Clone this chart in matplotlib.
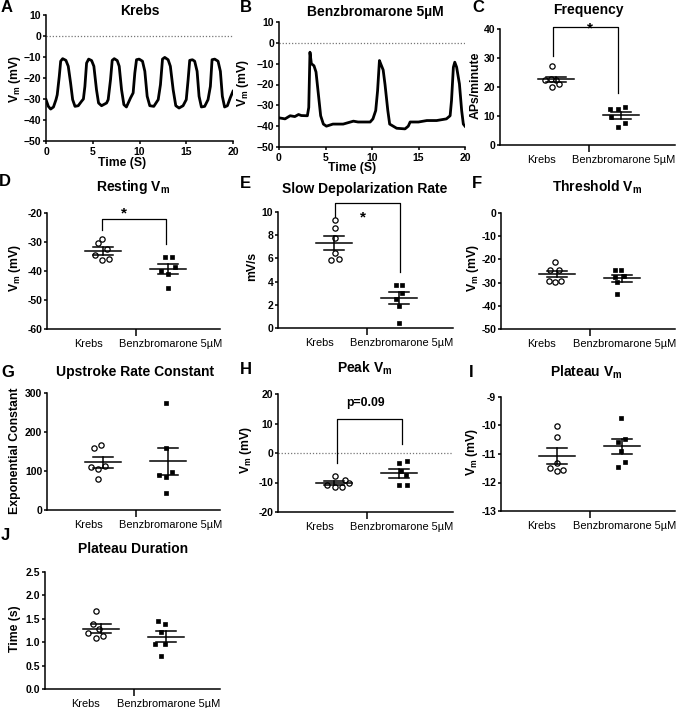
import numpy as np
import matplotlib
matplotlib.use("Agg")
import matplotlib.pyplot as plt

plt.rcParams['font.family'] = ['Liberation Sans', 'DejaVu Sans']
plt.rcParams['mathtext.fontset'] = 'custom'
plt.rcParams['mathtext.rm'] = 'Liberation Sans'
plt.rcParams['mathtext.bf'] = 'Liberation Sans:bold'
plt.rcParams['mathtext.it'] = 'Liberation Sans:italic'

# ---------------- data ----------------
groups = ["Krebs", "Benzbromarone 5µM"]

trace_a_t = [0, 0.25, 0.5, 0.8, 1.07, 1.2, 1.42, 1.57, 1.78, 2.13, 2.38, 2.63, 2.85, 3.1, 3.45, 3.8,
             4.0, 4.16, 4.34, 4.56, 4.88, 5.12, 5.4, 5.62, 5.94, 6.48, 6.65, 6.9, 7.08, 7.3, 7.62,
             7.83, 8.08, 8.33, 8.6, 9.04, 9.32, 9.5, 9.68, 9.96, 10.32, 10.57, 10.82, 11.1, 11.53,
             12.0, 12.24, 12.46, 12.7, 13.06, 13.3, 13.6, 13.88, 14.23, 14.66, 15.0, 15.2, 15.37,
             15.66, 15.9, 16.16, 16.37, 16.62, 16.97, 17.33, 17.58, 17.76, 18.04, 18.4, 18.65,
             18.86, 19.1, 19.4, 19.7, 20.0]
trace_a_v = [-30.3, -33.5, -34.8, -33.8, -30.3, -28, -19.2, -12, -10.8, -11.6, -14.4, -22.4, -30.3,
             -33.5, -33.2, -31.1, -30, -24, -12.9, -11, -11.7, -14.4, -25.6, -31.9, -33.2, -31.9,
             -30.3, -20.8, -11.6, -10.8, -11.7, -14.4, -25.6, -32.7, -33.8, -29.5, -27.1, -17.6,
             -11.3, -11, -12, -16.8, -28.7, -33.2, -33.5, -30.3, -23.2, -11, -10.2, -11.3, -14.4,
             -25.6, -33.2, -34.3, -33.2, -30.3, -20.8, -11.6, -11.3, -12, -16.8, -28.7, -33.8,
             -33.5, -30.3, -24, -11.3, -11, -12, -16.8, -28.7, -33.8, -33.2, -29.5, -26.3]

trace_b_t = [0, 0.65, 1.2, 1.7, 2.1, 2.4, 3.05, 3.2, 3.33, 3.48, 3.76, 3.98, 4.23, 4.48, 4.77, 5.1,
             5.8, 6.9, 8.0, 8.5, 9.8, 10.1, 10.4, 10.6, 10.8, 10.93, 11.2, 11.4, 11.7, 11.9, 12.65,
             13.55, 13.9, 14.1, 15.0, 15.9, 16.95, 18.0, 18.4, 18.55, 18.75, 18.9, 19.1, 19.4,
             19.64, 19.82, 20.0]
trace_b_v = [-36, -36.5, -35, -35.4, -34.4, -34.9, -35, -31, -4.5, -10, -11, -14, -24.5, -35, -39,
             -40, -39, -39, -37.6, -38, -38, -36.5, -32.5, -23, -8.5, -10, -13, -20, -32.5, -39,
             -41, -41.3, -40, -38, -38, -37.3, -37.3, -36.5, -35, -27.7, -11.7, -9.3, -11.7,
             -19.7, -32.5, -39, -40]

freq_krebs = [27.1, 22.5, 22.8, 22.3, 19.9, 21.0]
freq_benz = [12.3, 12.5, 13.0, 9.8, 7.5, 6.3]
rest_krebs = [-28.9, -30.5, -32.5, -34.6, -36.2, -36.0]
rest_benz = [-35.3, -35.1, -38.7, -40.0, -41.0, -45.8]
slow_krebs = [9.34, 8.62, 7.76, 6.47, 5.9, 5.98]
slow_benz = [3.74, 3.68, 3.02, 2.53, 1.93, 0.43]
thr_krebs = [-21.0, -24.6, -24.6, -29.3, -29.6, -29.1]
thr_benz = [-24.6, -24.6, -27.7, -27.1, -29.6, -35.0]
up_krebs = [159, 167, 109, 113, 104, 79]
up_benz = [274, 158, 90, 98, 84, 43]
peak_krebs = [-7.7, -11.0, -11.6, -11.6, -9.3, -10.1]
peak_benz = [-3.4, -2.7, -6.25, -7.6, -10.8, -10.8]
plat_krebs = [-10.02, -10.41, -11.32, -11.5, -11.6, -11.55]
plat_benz = [-9.75, -10.57, -10.47, -10.9, -11.27, -11.44]
dur_krebs = [1.67, 1.38, 1.29, 1.19, 1.14, 1.08]
dur_benz = [1.46, 1.39, 1.21, 0.96, 0.96, 0.70]

# ---------------- layout helpers ----------------
W, H = 679, 708
fig = plt.figure(figsize=(W / 100, H / 100), dpi=100)

def ax_at(l, t, r, b):
    return fig.add_axes([l / W, 1 - b / H, (r - l) / W, (b - t) / H])

def ftext(x, y, s, **kw):
    fig.text(x / W, 1 - y / H, s, **kw)

VM = r'$\mathbf{V_m}$ (mV)'
TICKFS = 7.5
LABFS = 8.8
LW = 1.1

def style(ax):
    for s in ['top', 'right']:
        ax.spines[s].set_visible(False)
    for s in ['left', 'bottom']:
        ax.spines[s].set_linewidth(LW)
    ax.tick_params(axis='both', length=2.5, width=LW, pad=1, labelsize=TICKFS)
    for lab in ax.get_yticklabels() + ax.get_xticklabels():
        lab.set_fontweight('bold')

def trace_panel(box, t, v, title, title_xy, ylab_xy, xlab_xy):
    ax = ax_at(*box)
    ax.plot(t, v, color='black', lw=2.0, solid_joinstyle='round')
    ax.axhline(0, color='#777777', lw=0.9, ls=(0, (1, 1.5)))
    ax.set_xlim(0, 20)
    ax.set_ylim(-50, 10)
    ax.set_xticks([0, 5, 10, 15, 20])
    ax.set_yticks([-50, -40, -30, -20, -10, 0, 10])
    style(ax)
    ax.tick_params(axis='x', pad=1.5)
    ftext(*title_xy, title, ha='center', va='center', fontsize=10, fontweight='bold')
    ftext(*ylab_xy, VM, ha='center', va='center', rotation=90, fontsize=LABFS, fontweight='bold')
    ftext(*xlab_xy, "Time (S)", ha='center', va='center', fontsize=LABFS, fontweight='bold')
    return ax

offsets = {
    'C': ([-4, -11, -5, 0, -4, 3], [-11, -3, 4, -10, 4, -3]),
    'D': ([-1, -5, 4, -8, -1, 6], [-3, 4, 7, -7, 0, 0]),
    'E': ([1, 1, 1, 1, -3, 5], [-3, 3, 3, -3, 0, 0]),
    'F': ([-2, -7, 2, -8, -2, 4], [-7, -1, -7, 2, -5, -5]),
    'G': ([-9, -2, -12, 2, -5, -5], [-2, -2, -9, 4, -2, -2]),
    'H': ([1, -7, 1, 8, 11, 15], [0, 8, 2, 7, 0, 8]),
    'I': ([0, 0, 0, -7, 0, 6], [-1, -4, 3, -1, 3, -4]),
    'J': ([-5, -8, -2, -13, 2, -5], [-8, -1, -5, -11, -1, -5]),
}

PXU = 65.0  # pixels per category unit

def cat_panel(box, key, kv, bv, ylim, yticks, yticklabels, title, title_xy, ylab, ylab_xy):
    ax = ax_at(*box)
    ax.set_xlim(-56 / PXU, (box[2] - box[0] - 56) / PXU)
    ax.set_ylim(*ylim)
    ko, bo = offsets[key]
    kx = [o / PXU for o in ko]
    bx = [1 + o / PXU for o in bo]
    ax.plot(kx, kv, ls='none', marker='o', ms=3.8, mfc='white', mec='black', mew=0.9,
            clip_on=False, zorder=3)
    ax.plot(bx, bv, ls='none', marker='s', ms=3.5, mfc='black', mec='black', mew=0.5,
            clip_on=False, zorder=3)
    for i, vals in enumerate([kv, bv]):
        m = np.mean(vals)
        se = np.std(vals, ddof=1) / np.sqrt(len(vals))
        ax.plot([i - 0.27, i + 0.27], [m, m], color='black', lw=1.1, zorder=4)
        ax.plot([i - 0.15, i + 0.15], [m + se, m + se], color='black', lw=1.1, zorder=4)
        ax.plot([i - 0.15, i + 0.15], [m - se, m - se], color='black', lw=1.1, zorder=4)
        ax.plot([i, i], [m - se, m + se], color='black', lw=1.1, zorder=4)
    ax.set_xticks([0.5])
    ax.set_xticklabels([''])
    ax.set_yticks(yticks)
    ax.set_yticklabels(yticklabels)
    style(ax)
    ax.tick_params(axis='x', length=5)
    y0 = 1 - (box[3] + 15) / H
    fig.text((box[0] + 41) / W, y0, groups[0], ha='center', va='center', fontsize=7.9)
    fig.text((box[0] + 124) / W, y0, groups[1], ha='center', va='center', fontsize=7.9)
    ftext(*title_xy, title, ha='center', va='center', fontsize=10, fontweight='bold')
    ftext(*ylab_xy, ylab, ha='center', va='center', rotation=90, fontsize=LABFS, fontweight='bold')
    return ax

def bracket(ax, top, yk, yb, xk=0.0, xb=1.0):
    ax.plot([xk, xk, xb, xb], [yk, top, top, yb], color='black', lw=0.9, clip_on=False)

STAR = dict(ha='center', va='center', fontsize=11, fontweight='bold')

# ---------------- panels ----------------
LETTER = dict(fontsize=12, fontweight='bold', ha='left', va='center')

# A
trace_panel((46, 15, 233, 141), trace_a_t, trace_a_v, "Krebs", (140, 11), (15, 79), (122, 163))
ftext(1, 8, "A", **LETTER)
# B
trace_panel((279, 22, 465, 147), trace_b_t, trace_b_v, "Benzbromarone 5µM", (375, 12), (243, 83),
            (352, 168))
ftext(240, 7, "B", **LETTER)

# C
axC = cat_panel((500, 29, 675, 145), 'C', freq_krebs, freq_benz, (0, 40), [0, 10, 20, 30, 40],
                ['0', '10', '20', '30', '40'], "Frequency", (588, 10), "APs/minute", (476, 85))
bracket(axC, 40.6, 30.8, 17.9, -0.04, 0.96)
axC.text(0.52, 40.2, "*", **STAR)
ftext(472, 7, "C", **LETTER)

# D
axD = cat_panel((47, 213, 220, 329), 'D', rest_krebs, rest_benz, (-60, -20),
                [-60, -50, -40, -30, -20], ['-60', '-50', '-40', '-30', '-20'],
                r"Resting $\mathbf{V_m}$", (133, 187), VM, (15, 268))
bracket(axD, -21.9, -25.7, -30.7, -0.02, 0.97)
axD.text(0.33, -20.0, "*", **STAR)
ftext(-1, 182, "D", **LETTER)

# E
axE = cat_panel((278, 212, 453, 328), 'E', slow_krebs, slow_benz, (0, 10),
                [0, 2, 4, 6, 8, 10], ['0', '2', '4', '6', '8', '10'],
                "Slow Depolarization Rate", (365, 189), "mV/s", (252, 266))
bracket(axE, 10.78, 9.57, 4.83, 0.02, 1.02)
axE.text(0.44, 9.55, "*", **STAR)
ftext(240, 183, "E", **LETTER)

# F
axF = cat_panel((501, 213, 675, 329), 'F', thr_krebs, thr_benz, (-50, 0),
                [-50, -40, -30, -20, -10, 0], ['-50', '-40', '-30', '-20', '-10', '0'],
                r"Threshold $\mathbf{V_m}$", (597, 187), VM, (473, 268))
ftext(472, 183, "F", **LETTER)

# G
axG = cat_panel((47, 393, 220, 510), 'G', up_krebs, up_benz, (0, 300),
                [0, 100, 200, 300], ['0', '100', '200', '300'],
                "Upstroke Rate Constant", (135, 372), "Exponential Constant", (15, 451))
ftext(1, 372, "G", **LETTER)

# H
axH = cat_panel((278, 394, 453, 512), 'H', peak_krebs, peak_benz, (-20, 20),
                [-20, -10, 0, 10, 20], ['-20', '-10', '0', '10', '20'],
                r"Peak $\mathbf{V_m}$", (365, 368), VM, (246, 450))
axH.axhline(0, color='#777777', lw=0.9, ls=(0, (1, 1.5)), zorder=1)
bracket(axH, 11.5, -3.4, 3.0, 0.05, 1.05)
axH.text(0.48, 17, "p=0.09", ha='center', va='center', fontsize=8.8, fontweight='bold')
ftext(240, 370, "H", **LETTER)

# I
axI = cat_panel((501, 397, 675, 511), 'I', plat_krebs, plat_benz, (-13, -9),
                [-13, -12, -11, -10, -9], ['-13', '-12', '-11', '-10', '-9'],
                r"Plateau $\mathbf{V_m}$", (586, 372), VM, (472, 452))
ftext(469, 372, "I", **LETTER)

# J
axJ = cat_panel((45, 572, 220, 689), 'J', dur_krebs, dur_benz, (0, 2.5),
                [0, 0.5, 1.0, 1.5, 2.0, 2.5], ['0.0', '0.5', '1.0', '1.5', '2.0', '2.5'],
                "Plateau Duration", (133, 549), "Time (s)", (15, 629))
ftext(1, 536, "J", **LETTER)

fig.savefig("out.png", dpi=100)
